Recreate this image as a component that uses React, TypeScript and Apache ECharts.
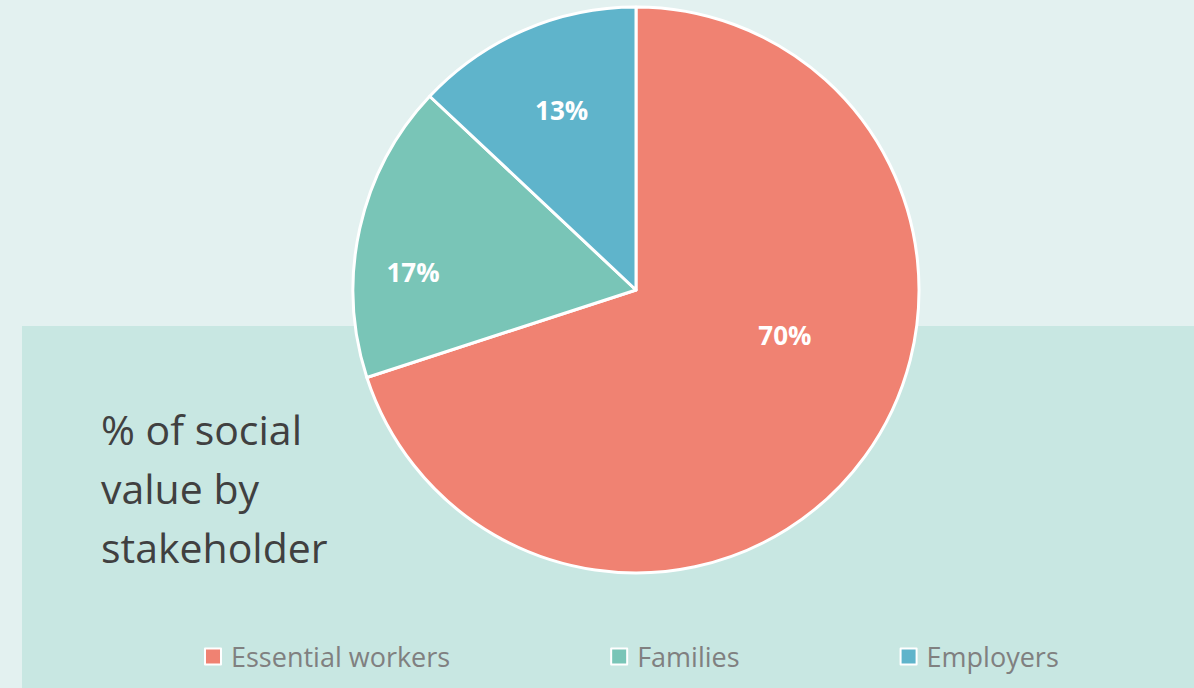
import React, { useEffect, useRef } from "react";
import * as echarts from "echarts";

const categories = ["Essential workers", "Families", "Employers"];
const values = [70, 17, 13];
const colors = ["#f08272", "#79c5b7", "#5fb4cb"];
const labelShift = [
  [32, -40],
  [-82, 14],
  [-17, -47],
];

export default function App() {
  const ref = useRef<HTMLDivElement>(null);
  useEffect(() => {
    document.body.style.margin = "0";
    const chart = echarts.init(ref.current!, null, { renderer: "svg" });
    chart.setOption({
      animation: false,
      backgroundColor: "#e3f1f0",
      graphic: [
        {
          type: "rect",
          z: -10,
          shape: { x: 22, y: 326, width: 1172, height: 362 },
          style: { fill: "#c8e7e2" },
        },
      ],
      title: {
        text: "% of social\nvalue by\nstakeholder",
        left: 96,
        top: 394,
        textStyle: {
          fontFamily: "Open Sans",
          fontSize: 41,
          fontWeight: "normal",
          lineHeight: 59,
          color: "#404040",
        },
      },
      legend: {
        data: categories,
        left: 199,
        top: 638,
        itemGap: 160,
        itemWidth: 16,
        itemHeight: 16,
        icon: "rect",
        itemStyle: { borderColor: "#ffffff", borderWidth: 2 },
        textStyle: {
          fontFamily: "Open Sans",
          fontSize: 27,
          color: "#808080",
          padding: [0, 0, 0, 5],
        },
      },
      series: [
        {
          type: "pie",
          center: [636, 290],
          radius: 283,
          startAngle: 90,
          clockwise: true,
          data: categories.map((c, i) => ({
            name: c,
            value: values[i],
            itemStyle: { color: colors[i] },
          })),
          itemStyle: { borderColor: "#ffffff", borderWidth: 3 },
          label: {
            show: true,
            position: "inside",
            formatter: "{c}%",
            color: "#ffffff",
            fontFamily: "Open Sans",
            fontWeight: "bold",
            fontSize: 26,
          },
          labelLayout: (p: any) => ({
            dx: labelShift[p.dataIndex][0],
            dy: labelShift[p.dataIndex][1],
          }),
          labelLine: { show: false },
          emphasis: { disabled: true },
        },
      ],
    });
    return () => chart.dispose();
  }, []);
  return <div ref={ref} style={{ width: 1194, height: 688 }} />;
}
